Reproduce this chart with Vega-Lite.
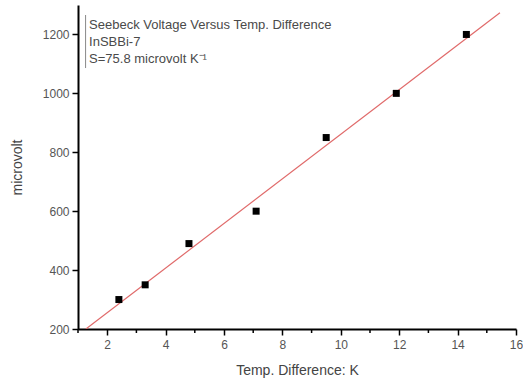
{
  "$schema": "https://vega.github.io/schema/vega-lite/v6.json",
  "width": 438,
  "height": 324,
  "autosize": "none",
  "padding": {"left": 78, "top": 5, "right": 7, "bottom": 50},
  "background": "white",
  "config": {
    "view": {"stroke": null},
    "font": "Liberation Sans",
    "axis": {
      "grid": false,
      "domainColor": "black",
      "domainWidth": 2,
      "tickColor": "black",
      "tickWidth": 1.5,
      "tickSize": 6,
      "labelColor": "#555555",
      "labelFont": "Liberation Sans",
      "labelFontSize": 12,
      "titleColor": "#444444",
      "titleFont": "Liberation Sans",
      "titleFontWeight": "normal",
      "titleFontSize": 14
    }
  },
  "datasets": {
    "points": [
      {"dt": 2.4, "uv": 300},
      {"dt": 3.3, "uv": 350},
      {"dt": 4.8, "uv": 490},
      {"dt": 7.1, "uv": 600},
      {"dt": 9.5, "uv": 850},
      {"dt": 11.9, "uv": 1000},
      {"dt": 14.3, "uv": 1200}
    ],
    "fit": [
      {"dt": 1.27, "uv": 200},
      {"dt": 15.45, "uv": 1274}
    ],
    "minor": [
      {"dt": 1, "uv": 200},
      {"dt": 3, "uv": 200},
      {"dt": 5, "uv": 200},
      {"dt": 7, "uv": 200},
      {"dt": 9, "uv": 200},
      {"dt": 11, "uv": 200},
      {"dt": 13, "uv": 200},
      {"dt": 15, "uv": 200}
    ],
    "bar": [
      {"dt": 1.26, "uv": 1266, "uv2": 1086}
    ],
    "notes": [
      {"dt": 1.38, "uv": 1232, "label": "Seebeck Voltage Versus Temp. Difference"},
      {"dt": 1.38, "uv": 1174, "label": "InSBBi-7"},
      {"dt": 1.38, "uv": 1117, "label": "S=75.8 microvolt K⁻¹"}
    ]
  },
  "layer": [
    {
      "data": {"name": "fit"},
      "mark": {"type": "line", "color": "#e06a6a", "strokeWidth": 1.2, "clip": true},
      "encoding": {
        "x": {
          "field": "dt", "type": "quantitative",
          "scale": {"domain": [1, 16], "nice": false, "zero": false},
          "axis": {
            "title": "Temp. Difference: K",
            "values": [2,4,6,8,10,12,14,16],
            "format": "d",
            "labelOverlap": false,
            "labelFlush": false,
            "labelPadding": 4,
            "titlePadding": 13
          }
        },
        "y": {
          "field": "uv", "type": "quantitative",
          "scale": {"domain": [200, 1300], "nice": false, "zero": false},
          "axis": {
            "title": "microvolt",
            "values": [200,300,400,500,600,700,800,900,1000,1100,1200],
            "labelExpr": "datum.value % 200 == 0 ? format(datum.value, 'd') : ''",
            "labelOverlap": false,
            "labelPadding": 3,
            "titlePadding": 18
          }
        }
      }
    },
    {
      "data": {"name": "minor"},
      "mark": {"type": "tick", "orient": "vertical", "color": "black", "size": 4, "thickness": 1.5, "yOffset": 2, "opacity": 1},
      "encoding": {
        "x": {"field": "dt", "type": "quantitative"},
        "y": {"field": "uv", "type": "quantitative"}
      }
    },
    {
      "data": {"name": "points"},
      "mark": {"type": "square", "color": "black", "opacity": 1, "filled": true, "size": 49},
      "encoding": {
        "x": {"field": "dt", "type": "quantitative"},
        "y": {"field": "uv", "type": "quantitative"}
      }
    },
    {
      "data": {"name": "bar"},
      "mark": {"type": "rule", "color": "#888888", "strokeWidth": 1},
      "encoding": {
        "x": {"field": "dt", "type": "quantitative"},
        "y": {"field": "uv", "type": "quantitative"},
        "y2": {"field": "uv2"}
      }
    },
    {
      "data": {"name": "notes"},
      "mark": {"type": "text", "align": "left", "baseline": "middle", "fontSize": 13, "color": "#4a4a4a", "font": "Liberation Sans"},
      "encoding": {
        "x": {"field": "dt", "type": "quantitative"},
        "y": {"field": "uv", "type": "quantitative"},
        "text": {"field": "label"}
      }
    }
  ]
}
